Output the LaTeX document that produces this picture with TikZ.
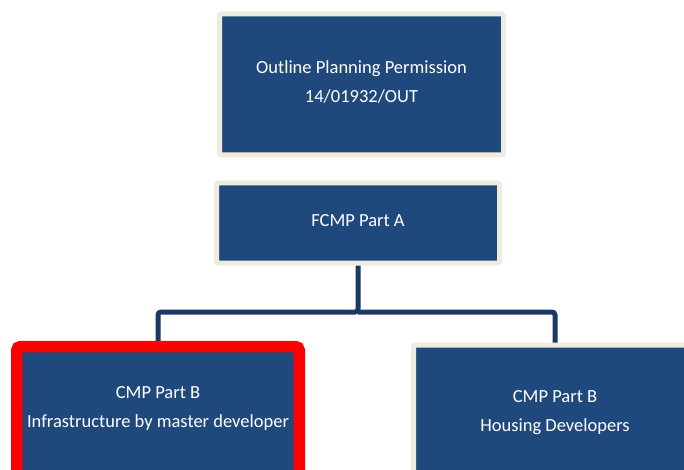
\documentclass[tikz,border=0pt]{standalone}
\usepackage{fontspec}
\setmainfont{Carlito}
\definecolor{boxblue}{RGB}{31,73,125}
\definecolor{cream}{RGB}{238,236,225}
\definecolor{navy}{RGB}{28,56,100}
\begin{document}
\begin{tikzpicture}[x=1pt,y=-1pt,
  box/.style={draw=cream,line width=5pt,fill=boxblue,
    inner sep=0pt,anchor=north,rounded corners=2pt,minimum width=283pt},
  redbox/.style={box,draw=red,line width=11.5pt,rounded corners=4pt},
  txt/.style={text=white,align=center,inner sep=0pt,
    font=\fontsize{18.5}{29}\selectfont},
  link/.style={draw=navy,line width=5pt,rounded corners=3pt}]
\useasboundingbox (0,0) rectangle (684,470);
\clip (0,0) rectangle (684,470);
\node[box,minimum width=284pt,minimum height=141pt,
  label={[txt,yshift=3pt]center:{Outline Planning Permission\\14/01932/OUT}}] (opp) at (361.5,11.5) {};
\node[box,minimum height=80pt,
  label={[txt,yshift=2pt]center:{FCMP Part A}}] (fcmp) at (358,180.5) {};
\node[redbox,minimum width=282.5pt,minimum height=143pt,
  label={[txt,yshift=10pt]center:{CMP Part B\\Infrastructure by master developer}}] (infra) at (158,340.75) {};
\node[box,minimum height=143pt,
  label={[txt,yshift=3.5pt]center:{CMP Part B\\Housing Developers}}] (housing) at (555,342.5) {};
\coordinate (split) at (358,312);
\draw[link] (fcmp.south) -- (split) -| (infra.north);
\draw[link] (split) -| (housing.north);
\end{tikzpicture}
\end{document}
